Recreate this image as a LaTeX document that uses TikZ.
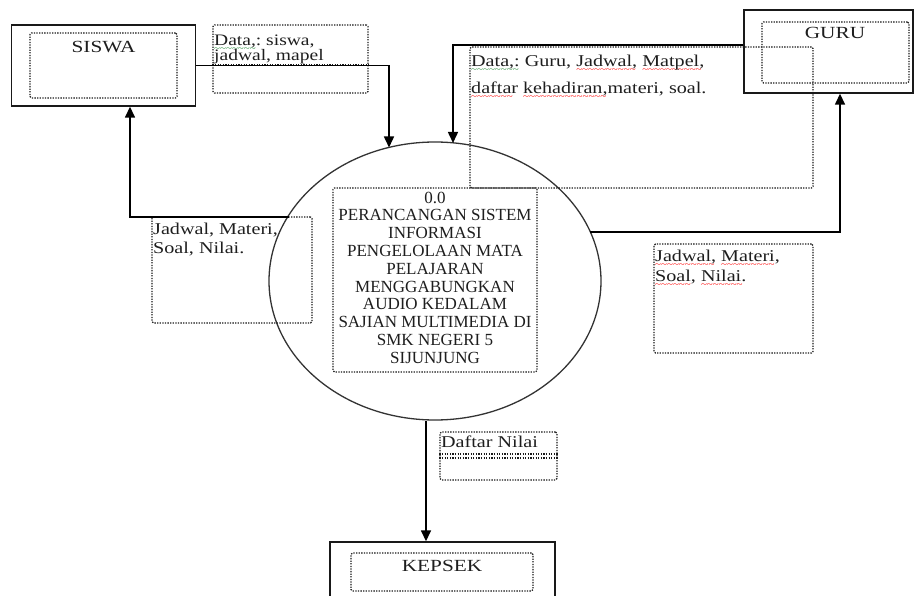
\documentclass[tikz,border=0pt]{standalone}
\usepackage{fontspec}
\setmainfont{Liberation Serif}
\newfontfamily\lblfont[FakeStretch=1.22]{Liberation Serif}
\newfontfamily\namefont[FakeStretch=1.25]{Liberation Serif}
\usetikzlibrary{arrows.meta,shapes.geometric}
\definecolor{txt}{RGB}{30,30,30}
\definecolor{wavegreen}{RGB}{40,140,60}
\newsavebox\wvbox
\newcommand\wavecol[2]{\sbox\wvbox{#2}\rlap{\raisebox{-6pt}[0pt][0pt]{\textcolor{#1}{\hbox to \wd\wvbox{\leaders\hbox{\fontsize{9}{9}\selectfont\char"7E}\hfil}}}}\usebox\wvbox}
\newcommand\redwave[1]{\wavecol{red}{#1}}
\newcommand\greenwave[1]{\wavecol{wavegreen}{#1}}
\tikzset{
  extbox/.style={draw=black!90, line width=1.4pt, inner sep=0pt},
  dotbox/.style={draw=black!90, line width=1.3pt, dash pattern=on 1.3pt off 1.3pt, inner sep=0pt, rounded corners=1.5pt},
  dotline/.style={draw=black!90, line width=1.3pt, dash pattern=on 1.3pt off 1.3pt},
  flow/.style={draw=black, line width=1.5pt, -{Triangle[width=10pt,length=11pt]}},
  lbl/.style={font=\lblfont\fontsize{16.5}{19}\selectfont, text=txt, inner sep=0pt, anchor=north west, align=left},
  nm/.style={font=\namefont\fontsize{17}{20}\selectfont, text=txt, inner sep=0pt, anchor=base},
  ptxt/.style={font=\fontsize{17}{17.8}\selectfont, text=txt, inner sep=0pt, anchor=north, align=center},
}
\begin{document}
\begin{tikzpicture}[x=1pt,y=-1pt]
\useasboundingbox (0,0) rectangle (916,596);
\fill[white] (0,0) rectangle (916,596);

% external entities
\node[extbox, minimum width=184pt, minimum height=81pt] (siswa) at (103.5,65.5) {};
\node[dotbox, minimum width=147pt, minimum height=65pt] (siswaIn) at (103.5,65.5) {};
\node[nm] (siswaT) at (103.5,53) {SISWA};

\node[extbox, minimum width=169pt, minimum height=83pt] (guru) at (828.5,51.5) {};
\node[dotbox, minimum width=147pt, minimum height=61pt] (guruIn) at (835.5,52.5) {};
\node[nm] (guruT) at (835,39) {GURU};

\node[extbox, minimum width=225pt, minimum height=58pt] (kepsek) at (442.5,571) {};
\node[dotbox, minimum width=182pt, minimum height=38pt] (kepsekIn) at (442,572) {};
\node[nm] (kepsekT) at (442,571) {KEPSEK};

% process
\node[draw=black!80, ellipse, line width=1.3pt, minimum width=332pt, minimum height=278pt, inner sep=0pt] (proc) at (435,281) {};
\node[dotbox, minimum width=204pt, minimum height=184pt] (procIn) at (435,280) {};
\node[ptxt] (procT) at (435,191.5) {0.0\\PERANCANGAN SISTEM\\INFORMASI\\PENGELOLAAN MATA\\PELAJARAN\\MENGGABUNGKAN\\AUDIO KEDALAM\\SAJIAN MULTIMEDIA DI\\SMK NEGERI 5\\SIJUNJUNG};

% label boxes
\node[dotbox, minimum width=155pt, minimum height=68pt] (sLbl) at (290.5,59) {};
\draw[dotline] ([yshift=-6pt]sLbl.west) -- ([yshift=-6pt]sLbl.east);
\node[lbl, font=\lblfont\fontsize{16}{15.5}\selectfont] (sLblT) at (214,34.5) {\greenwave{Data,:} siswa,\\jadwal, mapel};

\node[dotbox, minimum width=343pt, minimum height=141pt] (gLbl) at (641.5,117.5) {};
\node[lbl, font=\lblfont\fontsize{16.5}{27}\selectfont] (gLblT) at (471,54.7) {\greenwave{Data,:} Guru, \redwave{Jadwal,} \redwave{Matpel,}\\\redwave{daftar} \redwave{kehadiran,}materi, soal.};

\node[dotbox, minimum width=160pt, minimum height=106pt] (lLbl) at (232,270) {};
\node[lbl, font=\lblfont\fontsize{16.5}{19}\selectfont] (lLblT) at (153,222.7) {Jadwal, Materi,\\Soal, Nilai.};

\node[dotbox, minimum width=159pt, minimum height=109pt] (rLbl) at (733.5,298.5) {};
\node[lbl, font=\lblfont\fontsize{16.5}{20}\selectfont] (rLblT) at (655,249.7) {\redwave{Jadwal,} \redwave{Materi,}\\\redwave{Soal,} \redwave{Nilai.}};

\node[dotbox, minimum width=117pt, minimum height=48pt] (dLbl) at (498.5,456) {};
\draw[dotline] ([yshift=2pt]dLbl.west) -- ([yshift=2pt]dLbl.east);
\draw[dotline] ([yshift=-2pt]dLbl.west) -- ([yshift=-2pt]dLbl.east);
\node[lbl, anchor=base west] (dLblT) at (441,447) {Daftar Nilai};

% flows
\coordinate (in1) at (389,147.5);
\coordinate (in2) at (453,143);
\coordinate (out1) at (289,217);
\coordinate (out2) at (590,232);
\draw[flow] (siswa.east) -| (in1);
\draw[flow] ([yshift=6.5pt]guru.west) -| (in2);
\draw[flow] (out1) -| ([xshift=26.5pt]siswa.south);
\draw[flow] (out2) -| ([xshift=11.5pt]guru.south);
\draw[flow] ([xshift=-9pt]proc.south) -- ([xshift=-16.5pt]kepsek.north);
\end{tikzpicture}
\end{document}
